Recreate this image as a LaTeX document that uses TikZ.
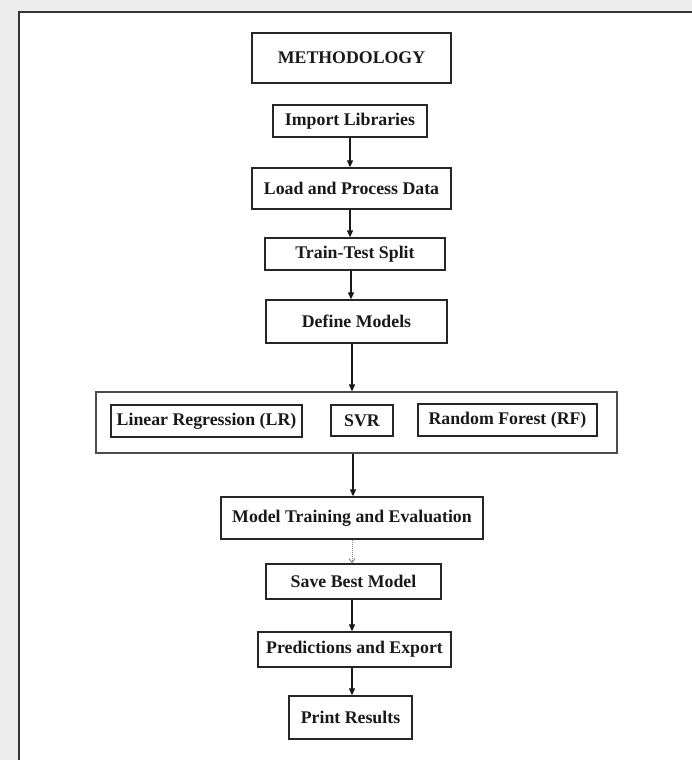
\documentclass[tikz,border=0pt]{standalone}
\usepackage{fontspec}
\setmainfont{Liberation Serif}
\usetikzlibrary{arrows.meta}
\tikzset{
  box/.style={draw=black!85, line width=1.3pt, inner sep=0pt, font=\fontsize{17.8}{20}\selectfont\bfseries, text=black!90},
  grp/.style={draw=black!70, line width=1.2pt, inner sep=0pt},
  arr/.style={draw=black!90, line width=1.3pt, -{Triangle[length=7pt,width=6pt]}},
  farr/.style={draw=black!45, line width=1pt, densely dotted, -{Straight Barb[length=4pt,width=6pt,line width=1pt]}},
}
\begin{document}
\begin{tikzpicture}[x=1pt,y=-1pt]
\useasboundingbox (0,0) rectangle (692,760);
\fill[white] (0,0) rectangle (692,760);
\fill[black!7] (0,0) rectangle (692,11);
\fill[black!7] (0,0) rectangle (18,760);
\draw[black!80, line width=1.5pt] (19,760) -- (19,12) -- (692,12);

% boxes: (x1,y1)-(x2,y2) -> center, width, height
\node[box, minimum width=199pt, minimum height=50pt] (meth) at (351.5,58) {METHODOLOGY};
\node[box, minimum width=154pt, minimum height=32pt] (imp) at (350,121) {Import Libraries};
\node[box, minimum width=199pt, minimum height=41pt] (load) at (351.5,188.5) {Load and Process Data};
\node[box, minimum width=180pt, minimum height=32pt] (split) at (355,254) {Train-Test Split};
\node[box, minimum width=181pt, minimum height=43pt] (def) at (356.5,321.5) {Define Models};
\node[grp, minimum width=521pt, minimum height=61pt] (grp) at (356.5,422.5) {};
\node[box, minimum width=191pt, minimum height=32pt] (lr) at (206.5,421) {Linear Regression (LR)};
\node[box, minimum width=62pt, minimum height=31pt] (svr) at (362,420.5) {SVR};
\node[box, minimum width=179pt, minimum height=32pt] (rf) at (507.5,420) {Random Forest (RF)};
\node[box, minimum width=262pt, minimum height=42pt] (mte) at (352,518) {Model Training and Evaluation};
\node[box, minimum width=175pt, minimum height=35pt] (save) at (353.5,581.5) {Save Best Model};
\node[box, minimum width=193pt, minimum height=35pt] (pred) at (354.5,649.5) {Predictions and Export};
\node[box, minimum width=123pt, minimum height=43pt] (prn) at (350.5,717.5) {Print Results};

% connectors
\draw[arr] (imp.south -| 350,0) -- (load.north -| 350,0);
\draw[arr] (load.south -| 350,0) -- (split.north -| 350,0);
\draw[arr] (split.south -| 351,0) -- (def.north -| 351,0);
\draw[arr] (def.south -| 352,0) -- (grp.north -| 352,0);
\draw[arr] (grp.south -| 353,0) -- (mte.north -| 353,0);
\draw[farr] (mte.south -| 352,0) -- (save.north -| 352,0);
\draw[arr] (save.south -| 352,0) -- (pred.north -| 352,0);
\draw[arr] (pred.south -| 352,0) -- (prn.north -| 352,0);
\end{tikzpicture}
\end{document}
